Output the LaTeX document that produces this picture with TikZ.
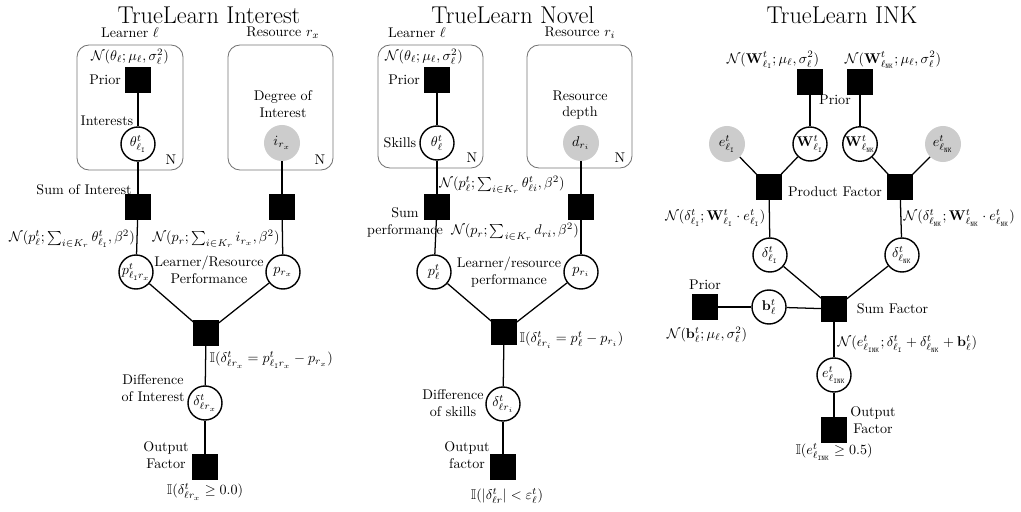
\documentclass[tikz,border=0pt]{standalone}
\usepackage{amsmath}
\usepackage{amssymb}
\usepackage{xcolor}
\usetikzlibrary{positioning}

\begin{document}
\begin{tikzpicture}[x=0.025cm, y=-0.025cm,
        factor/.style={draw, fill=black, minimum size=0.62cm, inner sep=0pt},
        var/.style={circle, draw, line width=1pt, fill=white, minimum size=0.85cm, inner sep=0pt},
        obs/.style={circle, fill=black!20, minimum size=0.9cm, inner sep=0pt},
        plate/.style={draw=black!55, semithick, rounded corners=0.3cm},
        edge/.style={line width=0.9pt},
        title/.style={font=\LARGE},
        lbl/.style={align=center, inner sep=1pt}]
        \useasboundingbox (0,0) rectangle (1021,512);

        % ---------------- TrueLearn Interest ----------------
        \node[title] (titleI) at (209,15) {TrueLearn Interest};

        % Plates
        \draw[plate] (77,45) rectangle (183,170);
        \draw[plate] (228,45) rectangle (333,170);
        \node[lbl] (learnerI) at (130,33) {Learner $\ell$};
        \node[lbl] (resourceI) at (283,33) {Resource $r_x$};
        \node[lbl] (plateNa) at (171,160) {N};
        \node[lbl] (plateNb) at (320,160) {N};

        % Nodes
        \node[lbl] (gaussI) at (130,57) {$\mathcal{N}(\theta_\ell;\mu_\ell,\sigma^2_\ell)$};
        \node[factor] (priorI) at (138,80) {};
        \node[lbl, left=2pt of priorI] (priorIl) {Prior};
        \node[var] (thetaI) at (138,144) {$\theta^t_{\ell_{\mathtt{I}}}$};
        \node[lbl] (thetaIl) at (107,121) {Interests};
        \node[lbl] (degreeI) at (283,104) {Degree of\\Interest};
        \node[obs] (iI) at (282,143) {$i_{r_x}$};

        \node[factor] (sumI) at (138,207) {};
        \node[lbl] (sumIl) at (84,190) {Sum of Interest};
        \node[factor] (resI) at (282,207) {};
        \node[lbl] (sumIeq) at (72,239) {$\mathcal{N}(p^t_\ell;\sum_{i\in K_r}\theta^t_{\ell_{\mathtt{I}}},\beta^2)$};
        \node[lbl] (resIeq) at (216,239) {$\mathcal{N}(p_r;\sum_{i\in K_r} i_{r_x},\beta^2)$};

        \node[var] (pI) at (136,272) {$p^t_{\ell_{\mathtt{I}}r_x}$};
        \node[var] (prI) at (283,272) {$p_{r_x}$};
        \node[lbl] (perfI) at (209,270) {Learner/Resource\\Performance};

        \node[factor] (diffI) at (206,333) {};
        \node[lbl, anchor=west] (diffIeq) at (208,360) {$\mathbb{I}(\delta^t_{\ell r_x} = p^t_{\ell_{\mathtt{I}}r_x} - p_{r_x})$};
        \node[var] (deltaI) at (205,403) {$\delta^t_{\ell r_x}$};
        \node[lbl] (deltaIl) at (153,388) {Difference\\of Interest};
        \node[factor] (outI) at (205,467) {};
        \node[lbl] (outIl) at (166,455) {Output\\Factor};
        \node[lbl] (outIeq) at (205,492) {$\mathbb{I}(\delta^t_{\ell r_x}\geq 0.0)$};

        % Edges
        \draw[edge] (priorI) -- (thetaI);
        \draw[edge] (thetaI) -- (sumI);
        \draw[edge] (sumI) -- (pI);
        \draw[edge] (iI) -- (resI);
        \draw[edge] (resI) -- (prI);
        \draw[edge] (pI) -- (diffI);
        \draw[edge] (prI) -- (diffI);
        \draw[edge] (diffI) -- (deltaI);
        \draw[edge] (deltaI) -- (outI);

        % ---------------- TrueLearn Novel ----------------
        \node[title] (titleN) at (513,15) {TrueLearn Novel};

        % Plates
        \draw[plate] (378,45) rectangle (483,168);
        \draw[plate] (527,45) rectangle (632,168);
        \node[lbl] (learnerN) at (417,33) {Learner $\ell$};
        \node[lbl] (resourceN) at (580,33) {Resource $r_i$};
        \node[lbl] (plateNc) at (472,158) {N};
        \node[lbl] (plateNd) at (620,158) {N};

        % Nodes
        \node[lbl] (gaussN) at (424,57) {$\mathcal{N}(\theta_\ell;\mu_\ell,\sigma^2_\ell)$};
        \node[factor] (priorN) at (437,80) {};
        \node[lbl, left=2pt of priorN] (priorNl) {Prior};
        \node[var] (thetaN) at (437,143) {$\theta^t_\ell$};
        \node[lbl, left=1pt of thetaN] (thetaNl) {Skills};
        \node[lbl] (depthN) at (580,105) {Resource\\depth};
        \node[obs] (dN) at (581,143) {$d_{r_i}$};

        \node[lbl] (sumNeq) at (502,185) {$\mathcal{N}(p^t_\ell;\sum_{i\in K_r}\theta^t_{\ell i},\beta^2)$};
        \node[factor] (sumN) at (437,207) {};
        \node[lbl] (sumNl) at (405,222) {Sum\\performance};
        \node[factor] (resN) at (581,207) {};
        \node[lbl] (resNeq) at (515,232) {$\mathcal{N}(p_r;\sum_{i\in K_r} d_{ri},\beta^2)$};

        \node[var] (pN) at (434,272) {$p^t_\ell$};
        \node[var] (prN) at (581,272) {$p_{r_i}$};
        \node[lbl] (perfN) at (509,272) {Learner/resource\\performance};

        \node[factor] (diffN) at (504,332) {};
        \node[lbl, anchor=west] (diffNeq) at (518,340) {$\mathbb{I}(\delta^t_{\ell r_i} = p^t_\ell - p_{r_i})$};
        \node[var] (deltaN) at (503,404) {$\delta^t_{\ell r_i}$};
        \node[lbl] (deltaNl) at (453,403) {Difference\\of skills};
        \node[factor] (outN) at (503,467) {};
        \node[lbl] (outNl) at (467,455) {Output\\factor};
        \node[lbl] (outNeq) at (507,496) {$\mathbb{I}(|\delta^t_{\ell r}| < \varepsilon^t_\ell)$};

        % Edges
        \draw[edge] (priorN) -- (thetaN);
        \draw[edge] (thetaN) -- (sumN);
        \draw[edge] (sumN) -- (pN);
        \draw[edge] (dN) -- (resN);
        \draw[edge] (resN) -- (prN);
        \draw[edge] (pN) -- (diffN);
        \draw[edge] (prN) -- (diffN);
        \draw[edge] (diffN) -- (deltaN);
        \draw[edge] (deltaN) -- (outN);

        % ---------------- TrueLearn INK ----------------
        \node[title] (titleK) at (842,15) {TrueLearn INK};

        % Priors on weights
        \node[lbl] (gaussWa) at (773,60) {$\mathcal{N}(\mathbf{W}^t_{\ell_{\mathtt{I}}};\mu_\ell,\sigma^2_\ell)$};
        \node[lbl] (gaussWb) at (893,60) {$\mathcal{N}(\mathbf{W}^t_{\ell_{\mathtt{NK}}};\mu_\ell,\sigma^2_\ell)$};
        \node[factor] (priorWa) at (810,82) {};
        \node[factor] (priorWb) at (860,82) {};
        \node[lbl] (priorWl) at (835,100) {Prior};

        \node[var] (Wa) at (810,144) {$\mathbf{W}^t_{\ell_{\mathtt{I}}}$};
        \node[var] (Wb) at (860,144) {$\mathbf{W}^t_{\ell_{\mathtt{NK}}}$};
        \node[obs] (ea) at (727,144) {$e^t_{\ell_{\mathtt{I}}}$};
        \node[obs] (eb) at (943,144) {$e^t_{\ell_{\mathtt{NK}}}$};

        % Product factors
        \node[factor] (proda) at (769,187) {};
        \node[factor] (prodb) at (900,187) {};
        \node[lbl] (prodl) at (835,192) {Product Factor};
        \node[lbl, anchor=east] (prodaeq) at (767,218) {$\mathcal{N}(\delta^t_{\ell_{\mathtt{I}}};\mathbf{W}^t_{\ell_{\mathtt{I}}}\cdot e^t_{\ell_{\mathtt{I}}})$};
        \node[lbl, anchor=west] (prodbeq) at (902,218) {$\mathcal{N}(\delta^t_{\ell_{\mathtt{NK}}};\mathbf{W}^t_{\ell_{\mathtt{NK}}}\cdot e^t_{\ell_{\mathtt{NK}}})$};

        \node[var] (da) at (770,255) {$\delta^t_{\ell_{\mathtt{I}}}$};
        \node[var] (db) at (902,255) {$\delta^t_{\ell_{\mathtt{NK}}}$};

        % Sum factor and bias
        \node[factor] (sumK) at (834,309) {};
        \node[lbl, right=6pt of sumK] (sumKl) {Sum Factor};
        \node[var] (bK) at (769,307) {$\mathbf{b}^t_\ell$};
        \node[factor] (priorB) at (705,307) {};
        \node[lbl] (priorBl) at (705,285) {Prior};
        \node[lbl] (gaussB) at (707,335) {$\mathcal{N}(\mathbf{b}^t_\ell;\mu_\ell,\sigma^2_\ell)$};
        \node[lbl, anchor=west] (sumKeq) at (836,344) {$\mathcal{N}(e^t_{\ell_{\mathtt{INK}}};\delta^t_{\ell_{\mathtt{I}}}+\delta^t_{\ell_{\mathtt{NK}}}+\mathbf{b}^t_\ell)$};

        \node[var] (eK) at (834,375) {$e^t_{\ell_{\mathtt{INK}}}$};
        \node[factor] (outK) at (834,430) {};
        \node[lbl] (outKl) at (873,420) {Output\\Factor};
        \node[lbl] (outKeq) at (834,452) {$\mathbb{I}(e^t_{\ell_{\mathtt{INK}}}\geq 0.5)$};

        % Edges
        \draw[edge] (priorWa) -- (Wa);
        \draw[edge] (priorWb) -- (Wb);
        \draw[edge] (Wa) -- (proda);
        \draw[edge] (ea) -- (proda);
        \draw[edge] (Wb) -- (prodb);
        \draw[edge] (eb) -- (prodb);
        \draw[edge] (proda) -- (da);
        \draw[edge] (prodb) -- (db);
        \draw[edge] (da) -- (sumK);
        \draw[edge] (db) -- (sumK);
        \draw[edge] (priorB) -- (bK);
        \draw[edge] (bK) -- (sumK);
        \draw[edge] (sumK) -- (eK);
        \draw[edge] (eK) -- (outK);
    \end{tikzpicture}
\end{document}
